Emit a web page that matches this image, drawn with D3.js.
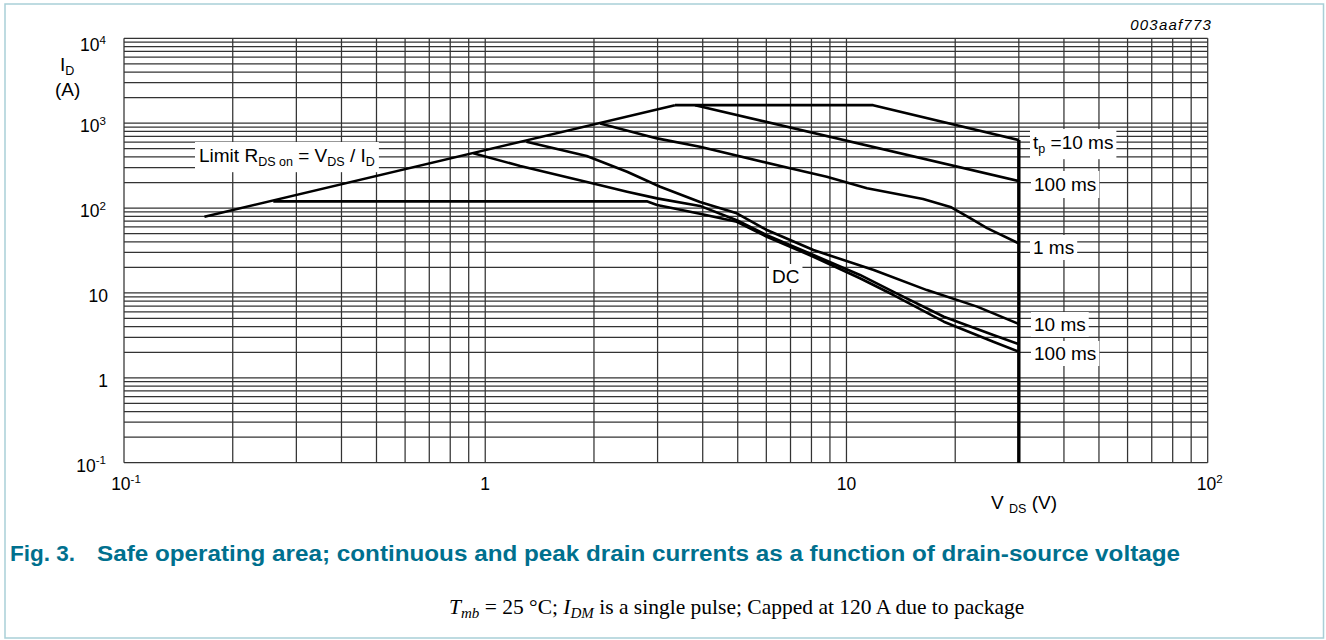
<!DOCTYPE html>
<html><head><meta charset="utf-8">
<script src="https://cdn.jsdelivr.net/npm/d3@7"></script>
<style>
body{margin:0;background:#fff}
svg{display:block}
text{font-family:"Liberation Sans",Arial,Helvetica,sans-serif;white-space:pre}
</style>
</head><body>
<svg id="c" width="1326" height="640"></svg>
<script>
// ---- data (V_DS in volts, I_D in amperes) ----
const xDomain = [0.1, 100];
const yDomain = [0.1, 10000];
const xTickValues = [0.1, 1, 10, 100];
const xTickBase = ["10", "1", "10", "10"];
const xTickSup = ["-1", "", "", "2"];
const yTickValues = [0.1, 1, 10, 100, 1000, 10000];
const yTickBase = ["10", "1", "10", "10", "10", "10"];
const yTickSup = ["-1", "", "", "2", "3", "4"];

const limitRdson = [[0.167, 79], [3.35, 1630]];
const tp10 = [[3.35, 1630], [11.85, 1630], [30, 632]];
const tp100 = [[3.81, 1630], [30, 208]];
const tp1ms = [[2.08, 994], [2.99, 662], [3.93, 527], [6.98, 294], [8.82, 234], [11.4, 171], [16.3, 128], [19.4, 103], [22, 76], [24.5, 58], [30, 38.4]];
const tp10ms = [[1.30, 604], [1.91, 410], [2.47, 268], [3.05, 178], [3.93, 118], [4.97, 86.6], [6.02, 55.1], [8.1, 32], [11.9, 18.6], [16.7, 10.8], [23, 6.9], [30, 4.3]];
const tp100ms = [[0.927, 441], [1.25, 313], [1.99, 195], [2.47, 156], [2.99, 130], [3.93, 106], [4.97, 72], [6.02, 48], [8.1, 28], [10.9, 16.3], [13.5, 10.3], [18.6, 5.24], [25.5, 3.19], [30, 2.5]];
const dcCurve = [[0.259, 120], [2.8, 120], [2.99, 108.5], [3.93, 85.7], [4.97, 69], [6.02, 45.9], [8.1, 26.7], [10.9, 14.9], [13.5, 9.45], [18.6, 4.58], [25.5, 2.66], [30, 2.03]];
const vdsMax = [[30, 632], [30, 0.1]];

// ---- chart ----
const svg = d3.select("#c");
const x = d3.scaleLog().domain(xDomain).range([124, 1207.7]);
const y = d3.scaleLog().domain(yDomain).range([462.7, 38.3]);

// page frame
svg.append("rect").attr("x", 5).attr("y", 4).attr("width", 1318.5).attr("height", 634)
  .attr("fill", "none").attr("stroke", "#a9cfd7").attr("stroke-width", 1.5);

function gridValues(dom) {
  const out = [];
  for (let d = dom[0]; d < dom[1] * 0.999; d *= 10) {
    for (let k = 1; k <= 9; k++) out.push(d * k);
  }
  out.push(dom[1]);
  return out;
}

const gGrid = svg.append("g");
gGrid.selectAll("line.v").data(gridValues(xDomain)).join("line")
  .attr("x1", d => x(d)).attr("x2", d => x(d))
  .attr("y1", y(yDomain[0])).attr("y2", y(yDomain[1]))
  .attr("stroke", "#333").attr("stroke-width", 1.25);
gGrid.selectAll("line.h").data(gridValues(yDomain)).join("line")
  .attr("y1", d => y(d)).attr("y2", d => y(d))
  .attr("x1", x(xDomain[0])).attr("x2", x(xDomain[1]))
  .attr("stroke", "#333").attr("stroke-width", 1.25);

const gBox = svg.append("g");
const gCurve = svg.append("g");
const gText = svg.append("g");

const line = d3.line().x(d => x(d[0])).y(d => y(d[1]));
[limitRdson, tp10, tp100, tp1ms, tp10ms, tp100ms, dcCurve].forEach(s => {
  gCurve.append("path").attr("d", line(s)).attr("fill", "none")
    .attr("stroke", "#000").attr("stroke-width", 2.6).attr("stroke-linejoin", "round");
});
gCurve.append("path").attr("d", line(vdsMax)).attr("fill", "none")
  .attr("stroke", "#000").attr("stroke-width", 3.4);

// rich text helper: parts [text, kind] kind: n normal, s subscript, u superscript
function rich(sel, px, py, parts, size, anchor) {
  const t = sel.append("text").attr("x", px).attr("y", py)
    .attr("font-size", size).attr("text-anchor", anchor || "start").attr("fill", "#000");
  let cur = 0;
  parts.forEach(([s, k]) => {
    let target = 0, fs = size;
    if (k === "s") { target = size * 0.22; fs = size * 0.66; }
    else if (k === "u") { target = -size * 0.42; fs = size * 0.66; }
    t.append("tspan").attr("dy", target - cur).attr("font-size", fs).text(s);
    cur = target;
  });
  return t;
}
function boxed(px, py, parts, size, padX, padY) {
  const t = rich(gText, px, py, parts, size);
  const b = t.node().getBBox();
  gBox.append("rect").attr("x", b.x - padX).attr("y", b.y - padY)
    .attr("width", b.width + 2 * padX).attr("height", b.height + 2 * padY).attr("fill", "#fff");
  return t;
}

// y tick labels
yTickValues.forEach((v, i) => {
  const parts = [[yTickBase[i], "n"]];
  if (yTickSup[i]) parts.push([yTickSup[i], "u"]);
  rich(gText, yTickSup[i] ? 106 : 108, Math.max(y(v) + 9, 51), parts, 17.5, "end");
});
// x tick labels
xTickValues.forEach((v, i) => {
  const parts = [[xTickBase[i], "n"]];
  if (xTickSup[i]) parts.push([xTickSup[i], "u"]);
  rich(gText, x(v) + (xTickSup[i] ? 2 : 0), 490, parts, 17.5, "middle");
});

// axis titles
rich(gText, 60, 71, [["I", "n"], ["D", "s"]], 19);
rich(gText, 55, 96, [["(A)", "n"]], 19);
rich(gText, 991, 509, [["V ", "n"], ["DS", "s"], [" (V)", "n"]], 19);

// curve labels
boxed(199, 162, [["Limit R", "n"], ["DS on", "s"], [" = V", "n"], ["DS", "s"], [" / I", "n"], ["D", "s"]], 19, 4, 3);
boxed(1033, 149, [["t", "n"], ["p", "s"], [" =10 ms", "n"]], 19, 3, 3);
boxed(1034, 191, [["100 ms", "n"]], 19, 3, 3);
boxed(1033, 254, [["1 ms", "n"]], 19, 3, 2);
boxed(1034, 331, [["10 ms", "n"]], 19, 3, 2);
boxed(1034, 360, [["100 ms", "n"]], 19, 3, 2);
boxed(772, 283, [["DC", "n"]], 19, 3, 2);

// figure id
svg.append("text").attr("x", 1212).attr("y", 30).attr("text-anchor", "end")
  .attr("font-size", 15).attr("font-style", "italic").attr("letter-spacing", 1.2)
  .attr("fill", "#000").text("003aaf773");

// caption
svg.append("text").attr("x", 10).attr("y", 561).attr("font-size", 22.5).attr("font-weight", "bold")
  .attr("fill", "#00708e").text("Fig. 3.");
svg.append("text").attr("x", 97).attr("y", 561).attr("font-size", 22.5).attr("font-weight", "bold")
  .attr("fill", "#00708e").attr("textLength", 1083).attr("lengthAdjust", "spacingAndGlyphs")
  .text("Safe operating area; continuous and peak drain currents as a function of drain-source voltage");

// conditions line (serif)
const sub = svg.append("text").attr("x", 449).attr("y", 614).attr("font-size", 21.5)
  .style("font-family", "'Liberation Serif','Times New Roman',serif").attr("fill", "#000");
sub.append("tspan").attr("font-style", "italic").text("T");
sub.append("tspan").attr("font-style", "italic").attr("font-size", 15).attr("dy", 4).text("mb");
sub.append("tspan").attr("dy", -4).text(" = 25 °C; ");
sub.append("tspan").attr("font-style", "italic").text("I");
sub.append("tspan").attr("font-style", "italic").attr("font-size", 15).attr("dy", 4).text("DM");
sub.append("tspan").attr("dy", -4).text(" is a single pulse; Capped at 120 A due to package");
</script>
</body></html>
